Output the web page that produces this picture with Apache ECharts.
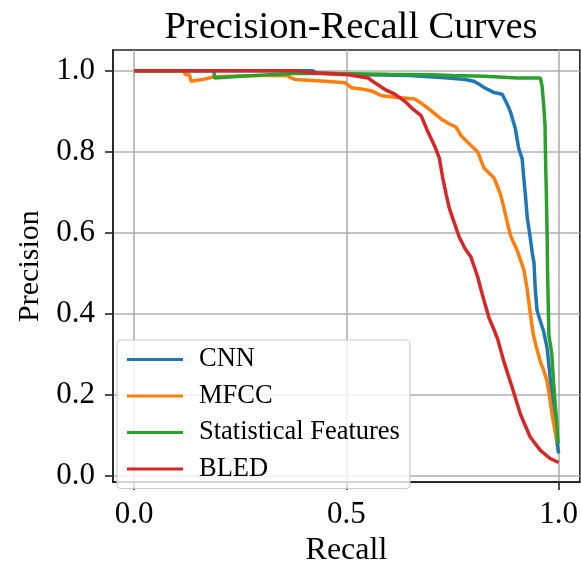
<!DOCTYPE html>
<html><head><meta charset="utf-8">
<script src="https://cdn.jsdelivr.net/npm/echarts@6/dist/echarts.min.js"></script>
<style>html,body{margin:0;padding:0;background:#fff}#c{width:581px;height:572px}</style>
</head><body><div id="c"></div>
<script>
const seriesNames = ['CNN', 'MFCC', 'Statistical Features', 'BLED'];
const seriesColors = ['#1f77b4', '#ff7f0e', '#2ca02c', '#d62728'];
const xTicks = [0, 0.5, 1.0];
const yTicks = [0, 0.2, 0.4, 0.6, 0.8, 1.0];

const cnn = [[0,1.0],[0.42,1.0],[0.43,0.994],[0.55,0.99],[0.65,0.988],[0.74,0.982],[0.78,0.978],[0.80,0.974],[0.815,0.965],[0.825,0.958],[0.84,0.95],[0.848,0.946],[0.867,0.942],[0.875,0.925],[0.882,0.91],[0.887,0.897],[0.893,0.875],[0.898,0.857],[0.906,0.808],[0.914,0.783],[0.918,0.735],[0.922,0.69],[0.926,0.638],[0.933,0.589],[0.938,0.55],[0.942,0.525],[0.945,0.46],[0.949,0.41],[0.953,0.395],[0.965,0.355],[0.973,0.315],[0.98,0.242],[0.987,0.177],[0.992,0.12],[0.996,0.085],[1.0,0.055]];
const mfcc = [[0,1.0],[0.118,1.0],[0.12,0.99],[0.13,0.99],[0.134,0.974],[0.16,0.978],[0.189,0.985],[0.25,0.987],[0.3,0.988],[0.36,0.988],[0.37,0.982],[0.38,0.978],[0.45,0.974],[0.497,0.97],[0.512,0.958],[0.535,0.955],[0.559,0.95],[0.583,0.938],[0.622,0.934],[0.661,0.93],[0.68,0.917],[0.70,0.901],[0.723,0.881],[0.74,0.87],[0.758,0.861],[0.77,0.84],[0.785,0.824],[0.809,0.80],[0.824,0.76],[0.848,0.735],[0.863,0.695],[0.871,0.662],[0.878,0.63],[0.887,0.592],[0.902,0.557],[0.918,0.509],[0.926,0.46],[0.933,0.403],[0.940,0.35],[0.947,0.32],[0.957,0.282],[0.965,0.26],[0.973,0.233],[0.98,0.185],[0.987,0.136],[0.996,0.087],[1.0,0.085]];
const stats = [[0,1.0],[0.188,1.0],[0.189,0.982],[0.25,0.986],[0.30,0.989],[0.372,0.993],[0.45,0.993],[0.55,0.992],[0.60,0.991],[0.70,0.99],[0.75,0.988],[0.825,0.986],[0.87,0.984],[0.902,0.982],[0.957,0.982],[0.961,0.962],[0.965,0.913],[0.968,0.865],[0.969,0.792],[0.971,0.70],[0.973,0.589],[0.974,0.50],[0.976,0.40],[0.977,0.347],[0.982,0.315],[0.984,0.298],[0.988,0.233],[0.992,0.177],[0.996,0.128],[0.998,0.087],[1.0,0.08]];
const bled = [[0,1.0],[0.38,1.0],[0.427,0.994],[0.505,0.99],[0.551,0.982],[0.567,0.97],[0.59,0.954],[0.614,0.942],[0.637,0.925],[0.657,0.905],[0.676,0.889],[0.692,0.849],[0.707,0.816],[0.719,0.784],[0.727,0.735],[0.735,0.695],[0.742,0.662],[0.754,0.625],[0.766,0.589],[0.78,0.56],[0.793,0.541],[0.809,0.492],[0.817,0.46],[0.825,0.43],[0.836,0.39],[0.848,0.36],[0.856,0.339],[0.871,0.282],[0.891,0.217],[0.91,0.152],[0.933,0.096],[0.957,0.063],[0.98,0.043],[1.0,0.033]];
const allData = [cnn, mfcc, stats, bled];

const FONT = '"Liberation Serif", "DejaVu Serif", serif';
const chart = echarts.init(document.getElementById('c'), null, {renderer: 'canvas'});
const fmt = v => v.toFixed(1);
chart.setOption({
  animation: false,
  backgroundColor: '#fff',
  title: {
    text: 'Precision-Recall Curves', left: 346, top: 3, textAlign: 'center',
    textStyle: {fontFamily: FONT, fontSize: 38.5, fontWeight: 'normal', color: '#000'}
  },
  grid: {left: 113, top: 50, width: 470, height: 439, show: true, borderColor: '#222', borderWidth: 1.6, backgroundColor: 'transparent'},
  legend: {
    orient: 'vertical', left: 117, top: 340,
    data: seriesNames,
    icon: 'rect', itemWidth: 56, itemHeight: 3, itemGap: 9.5,
    padding: [6, 10, 6, 10],
    backgroundColor: 'rgba(255,255,255,0.8)', borderColor: '#cccccc', borderWidth: 1.2, borderRadius: 4,
    textStyle: {fontFamily: FONT, fontSize: 26.5, color: '#000', padding: [0, 0, 0, 11]}
  },
  xAxis: {
    type: 'value', min: -0.05, max: 1.05,
    name: 'Recall', nameLocation: 'middle', nameGap: 49,
    nameTextStyle: {fontFamily: FONT, fontSize: 32, color: '#000'},
    axisLine: {show: true, onZero: false, lineStyle: {color: '#222', width: 1.6}},
    axisTick: {show: true, inside: false, length: 8, customValues: xTicks, lineStyle: {color: '#222', width: 1.6}},
    axisLabel: {customValues: xTicks, formatter: fmt, margin: 17, fontFamily: FONT, fontSize: 31, color: '#000'},
    splitLine: {show: true, lineStyle: {color: '#b0b0b0', width: 1.6}}
  },
  yAxis: {
    type: 'value', min: -0.0153, max: 1.051,
    name: 'Precision', nameLocation: 'middle', nameGap: 64,
    nameTextStyle: {fontFamily: FONT, fontSize: 30, color: '#000'},
    axisLine: {show: true, onZero: false, lineStyle: {color: '#222', width: 1.6}},
    axisTick: {show: true, inside: false, length: 8, customValues: yTicks, lineStyle: {color: '#222', width: 1.6}},
    axisLabel: {customValues: yTicks, formatter: fmt, margin: 18, fontFamily: FONT, fontSize: 31, color: '#000'},
    splitLine: {show: true, lineStyle: {color: '#b0b0b0', width: 1.6}}
  },
  series: seriesNames.map((n, i) => ({
    name: n, type: 'line', data: allData[i], showSymbol: false, symbol: 'none',
    lineStyle: {color: seriesColors[i], width: 3.5}, itemStyle: {color: seriesColors[i]},
    clip: true, z: 2 + i
  }))
});
</script></body></html>
